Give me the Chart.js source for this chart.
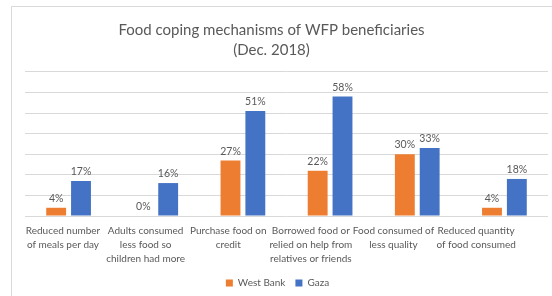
<!DOCTYPE html>
<html>
<head>
<meta charset="utf-8">
<script src="https://cdn.jsdelivr.net/npm/chart.js@4.4.1/dist/chart.umd.min.js"></script>
<style>
  html, body { margin: 0; padding: 0; background: #fff; }
  #wrap { position: relative; width: 552px; height: 296px; overflow: hidden; }
  #frame { position: absolute; left: 11px; top: 6px; width: 600px; height: 400px;
           border-left: 1px solid #d9d9d9; border-top: 1px solid #d9d9d9; }
  #chart { position: absolute; left: 0; top: 0; }
</style>
</head>
<body>
<div id="wrap">
  <div id="frame"></div>
  <canvas id="chart" width="552" height="296"></canvas>
</div>
<script>
// Categories (wrapped the same way as in the picture)
const categories = [
    ['Reduced number', 'of meals per day'],
    ['Adults consumed', 'less food so', 'children had more'],
    ['Purchase food on', 'credit'],
    ['Borrowed food or', 'relied on help from', 'relatives or friends'],
    ['Food consumed of', 'less quality'],
    ['Reduced quantity', 'of food consumed']
];

// Values in percent
const westBank = [4, 0, 27, 22, 30, 4];
const gaza = [17, 16, 51, 58, 33, 18];

const textColor = '#595959';
const fontFamily = 'Lato, "Open Sans", sans-serif';

// Small plugin to write the value above each bar
const valueLabels = {
    id: 'valueLabels',
    afterDatasetsDraw(chart) {
        const ctx = chart.ctx;
        ctx.save();
        ctx.font = '10.5px ' + fontFamily;
        ctx.fillStyle = textColor;
        ctx.textAlign = 'center';
        ctx.textBaseline = 'bottom';
        chart.data.datasets.forEach((ds, i) => {
            const meta = chart.getDatasetMeta(i);
            meta.data.forEach((bar, j) => {
                ctx.fillText(ds.data[j] + '%', bar.x, bar.y - 4);
            });
        });
        ctx.restore();
    }
};

// Title and legend in the picture sit a bit left of the plot centre
const shiftBlocks = {
    id: 'shiftBlocks',
    afterLayout(chart) {
        chart.titleBlock.left -= 15;
        chart.titleBlock.right -= 15;
        chart.legend.left -= 9;
        chart.legend.right -= 9;
        chart.legend.adjustHitBoxes();
    }
};

const chartCtx = document.getElementById('chart').getContext('2d');

let copingChart = new Chart(chartCtx, {
    type: 'bar',
    data: {
        labels: categories,
        datasets: [
            {
                label: 'West Bank',
                data: westBank,
                backgroundColor: '#ed7d31',
                categoryPercentage: 0.57,
                barPercentage: 0.8
            },
            {
                label: 'Gaza',
                data: gaza,
                backgroundColor: '#4472c4',
                categoryPercentage: 0.57,
                barPercentage: 0.8
            }
        ]
    },
    options: {
        responsive: false,
        animation: false,
        layout: {
            padding: { left: 25, right: 4, top: 0, bottom: -2 }
        },
        scales: {
            x: {
                grid: { display: false, drawTicks: false },
                border: { display: false },
                ticks: { display: false }
            },
            // label axis: the category names in the picture sit on a slightly
            // narrower pitch than the bars, so they get their own axis
            xl: {
                type: 'linear',
                position: 'bottom',
                offset: false,
                min: -0.46,
                max: 5.87,
                grid: { display: false, drawTicks: false, offset: false },
                border: { display: false },
                ticks: {
                    stepSize: 1,
                    includeBounds: false,
                    autoSkip: false,
                    maxRotation: 0,
                    align: 'center',
                    padding: 8,
                    color: textColor,
                    font: { family: fontFamily, size: 10, lineHeight: 1.4 },
                    callback: (v) => categories[v] || ''
                },
                afterFit: (scale) => { scale.height -= 6; }
            },
            y: {
                min: 0,
                max: 70,
                ticks: { display: false, stepSize: 10 },
                grid: { color: '#d9d9d9', drawTicks: false },
                border: { display: false }
            }
        },
        plugins: {
            title: {
                display: true,
                text: ['Food coping mechanisms of WFP beneficiaries', '(Dec. 2018)'],
                color: textColor,
                font: { family: fontFamily, size: 15, weight: 'normal', lineHeight: 1.33 },
                padding: { top: 20, bottom: 12 }
            },
            legend: {
                position: 'bottom',
                labels: {
                    color: textColor,
                    font: { family: fontFamily, size: 10 },
                    boxWidth: 7,
                    boxHeight: 7,
                    padding: 10
                }
            },
            tooltip: { enabled: false }
        }
    },
    plugins: [valueLabels, shiftBlocks]
});
</script>
</body>
</html>
